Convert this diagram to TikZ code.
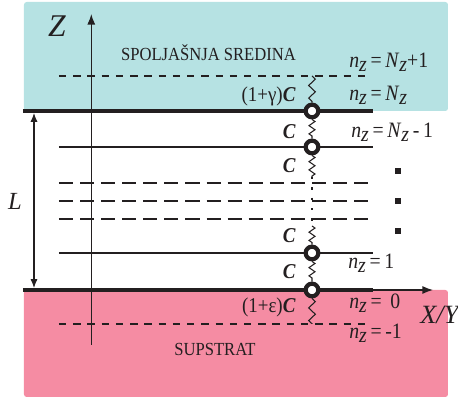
\documentclass[tikz,border=0pt]{standalone}
\usepackage{fontspec}
\setmainfont{Liberation Serif}
\newfontfamily\uski[FakeStretch=0.9]{Liberation Serif}
\usetikzlibrary{decorations.pathmorphing,arrows.meta}
\definecolor{sredina}{RGB}{182,226,227}
\definecolor{supstrat}{RGB}{245,140,163}
\definecolor{linija}{RGB}{35,31,32}
\newcommand{\nz}{\textit{n}\raisebox{-2.4pt}{\textit{z}}}
\newcommand{\Nz}{\textit{N}\raisebox{-2.4pt}{\textit{z}}}
\begin{document}
\begin{tikzpicture}[x=0.02cm,y=-0.02cm,font=\fontsize{10.5}{12}\selectfont\uski,text=linija,
oblast/.style={rounded corners=1.5pt},
granica/.style={linija,line width=1.9pt},
sloj/.style={linija,line width=0.75pt},
retka/.style={linija,line width=0.75pt,dash pattern=on 4.2pt off 3.9pt},
gusta/.style={linija,line width=0.85pt,dash pattern=on 8pt off 4pt},
osa/.style={linija,line width=0.65pt,-{Latex[length=6pt,width=4.5pt]}},
duzina/.style={linija,line width=0.65pt,{Latex[length=5pt,width=4pt]}-{Latex[length=5pt,width=4pt]}},
ressort/.style={linija,line width=0.6pt,decorate,decoration={zigzag,amplitude=1.7pt,segment length=4.7pt}},
dugi/.style={linija,line width=0.6pt,decorate,decoration={zigzag,amplitude=1.9pt,segment length=7.2pt}},
cvor/.style={circle,draw=linija,fill=white,line width=2.4pt,inner sep=0pt,minimum size=7.2pt},
tacka/.style={fill=linija,inner sep=0pt,minimum size=3.2pt},
natpis/.style={inner sep=0pt,anchor=west,font=\fontsize{12.5}{14}\selectfont\uski},
opruga/.style={inner sep=0pt,anchor=east,font=\fontsize{12}{14}\selectfont\uski}]
\useasboundingbox (0,0) rectangle (458,398);
\fill[oblast,sredina] (24,2) rectangle (448,111);
\fill[oblast,supstrat] (24,290) rectangle (448,397);
% koordinate krajeva linija
\coordinate (g1) at (59,76); \coordinate (d1) at (371,76);
\coordinate (g2) at (23,111); \coordinate (d2) at (373,111);
\coordinate (g3) at (59,147); \coordinate (d3) at (373,147);
\coordinate (g4) at (59,183); \coordinate (d4) at (373,183);
\coordinate (g5) at (59,201); \coordinate (d5) at (373,201);
\coordinate (g6) at (59,219); \coordinate (d6) at (373,219);
\coordinate (g7) at (59,253); \coordinate (d7) at (373,253);
\coordinate (g8) at (23,290); \coordinate (d8) at (373,290);
\coordinate (g9) at (59,324); \coordinate (d9) at (371,324);
\draw[retka] (g1) -- (d1);
\draw[granica] (g2) -- (d2);
\draw[sloj] (g3) -- (d3);
\draw[gusta] (g4) -- (d4);
\draw[gusta] (g5) -- (d5);
\draw[gusta] (g6) -- (d6);
\draw[sloj] (g7) -- (d7);
\draw[granica] (g8) -- (d8);
\draw[retka] (g9) -- (d9);
% ose
\coordinate (zdole) at (91.3,345); \coordinate (zgore) at (91.3,14);
\coordinate (lgore) at (34,113); \coordinate (ldole) at (34,288);
\coordinate (xkraj) at (433,290);
\draw[osa] (zdole) -- (zgore);
\draw[osa] (d8) -- (xkraj);
\draw[duzina] (lgore) -- (ldole);
% opruge
\node[cvor] (c2) at (312,111) {};
\node[cvor] (c3) at (312,147) {};
\node[cvor] (c7) at (312,253) {};
\node[cvor] (c8) at (312,290) {};
\coordinate (o1) at (312,76); \coordinate (o3) at (312,177);
\coordinate (o7) at (312,226); \coordinate (o9) at (312,324);
\draw[dugi] (o1) -- (c2);
\draw[ressort] (c2) -- (c3);
\draw[ressort] (c3) -- (o3);
\draw[linija,line width=0.8pt,dash pattern=on 1.3pt off 4.6pt] (o3) -- (o7);
\draw[ressort] (o7) -- (c7);
\draw[ressort] (c7) -- (c8);
\draw[dugi] (c8) -- (o9);
% tekst
\node[font=\fontsize{18}{20}\selectfont\itshape] (z) at (57,26) {Z};
\node[font=\fontsize{14}{16}\selectfont\itshape] (l) at (15,201) {L};
\node[font=\fontsize{15}{17}\selectfont\itshape,anchor=west,inner sep=0pt] (xy) at (420,315) {X/Y};
\node (spolja) at (208.5,53) {SPOLJAŠNJA SREDINA};
\node (sup) at (215,349) {SUPSTRAT};
\node[opruga] (cg) at (296,96) {(1+γ)\textbf{\textit{C}}};
\node[opruga] (c1) at (296,132) {\textbf{\textit{C}}};
\node[opruga] (c4) at (296,166) {\textbf{\textit{C}}};
\node[opruga] (c5) at (296,236) {\textbf{\textit{C}}};
\node[opruga] (c6) at (296,272) {\textbf{\textit{C}}};
\node[opruga] (ce) at (296,307) {(1+ɛ)\textbf{\textit{C}}};
\node[natpis] (n1) at (349,62) {\nz\,=\,\Nz+1};
\node[natpis] (n2) at (349,95) {\nz\,=\,\Nz};
\node[natpis] (n3) at (351,132) {\nz\,=\,\Nz\,-\,1};
\node[natpis] (n4) at (348,263) {\nz\,=\,1};
\node[natpis] (n5) at (349,303) {\nz\,=\, 0};
\node[natpis] (n6) at (349,333) {\nz\,=\,-1};
\node[tacka] (t1) at (398,171) {};
\node[tacka] (t2) at (398,201) {};
\node[tacka] (t3) at (398,231) {};
\end{tikzpicture}
\end{document}
